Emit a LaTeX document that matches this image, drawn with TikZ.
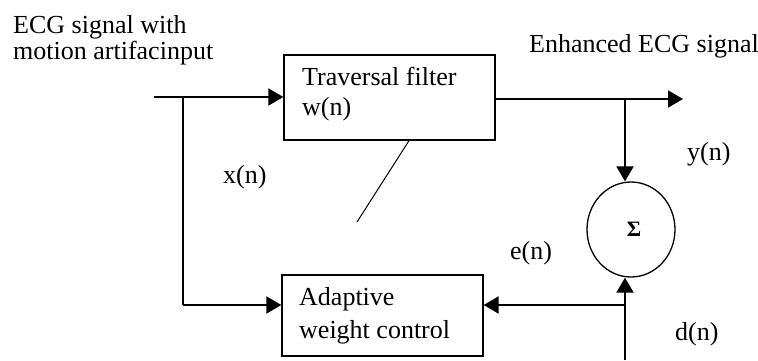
\documentclass[tikz,border=0pt]{standalone}
\usepackage{fontspec}
\setmainfont{Liberation Serif}
\usetikzlibrary{arrows.meta,shapes.geometric,calc}
\begin{document}
\begin{tikzpicture}[x=1pt,y=-1pt,
  lbl/.style={anchor=base west, inner sep=0pt, font=\fontsize{26}{26}\selectfont},
  blk/.style={draw, line width=1.3pt, inner sep=0pt},
  conn/.style={line width=2pt, -{Triangle[length=15pt,width=17pt]}},
  wire/.style={line width=2pt},
  diag/.style={line width=1pt}]
\useasboundingbox (0,0) rectangle (758,360);
% blocks
\node[blk, minimum width=211pt, minimum height=85pt] (trav) at (389.5,97.5) {};
\node[blk, minimum width=201pt, minimum height=81pt] (adapt) at (382.5,315.5) {};
\node[blk, ellipse, minimum width=88pt, minimum height=95pt, font=\bfseries\fontsize{22}{22}\selectfont] (sum) at (631,229.5) {\hspace*{6pt}Σ};
% texts
\node[lbl] (t1) at (302,85) {Traversal filter};
\node[lbl] (t2) at (302,115) {w(n)};
\node[lbl] (a1) at (299,305) {Adaptive};
\node[lbl] (a2) at (299,338) {weight control};
\node[lbl] (in1) at (13,33) {ECG signal with};
\node[lbl] (in2) at (13,59) {motion artifacinput};
\node[lbl] (enh) at (529,52) {Enhanced ECG signal};
\node[lbl] (yn) at (687,160) {y(n)};
\node[lbl] (xn) at (223,183) {x(n)};
\node[lbl] (en) at (510,259) {e(n)};
\node[lbl] (dn) at (675,340) {d(n)};
% coordinates
\coordinate (in) at (154,97);
\coordinate (br) at (183,97);
\coordinate (xa) at (183,305);
\coordinate (outend) at (683,99);
\coordinate (yb) at (625,99);
\coordinate (ds) at (625,360);
\coordinate (eb) at (625,305);
\coordinate (dg) at (357,222);
% connectors
\draw[conn] (in) -- (in -| trav.west);
\draw[wire] (br) -- (xa);
\draw[conn] (xa) -- (xa -| adapt.west);
\draw[conn] (outend -| trav.east) -- (outend);
\draw[conn] (yb) -- (yb |- sum.north);
\draw[conn] (ds) -- (ds |- sum.south);
\draw[conn] (eb) -- (eb -| adapt.east);
\draw[diag] ($(trav.south)+(19.5,0)$) -- (dg);
\end{tikzpicture}
\end{document}
